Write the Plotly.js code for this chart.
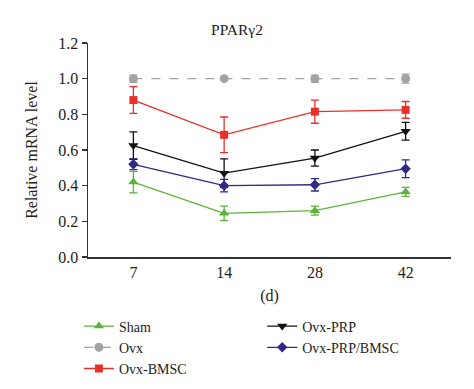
<!DOCTYPE html>
<html><head><meta charset="utf-8">
<script src="https://cdn.plot.ly/plotly-3.0.1.min.js"></script>
<style>html,body{margin:0;padding:0;background:#fff}#plot{width:474px;height:389px}</style>
</head><body><div id="plot"></div>
<script>
const days = ['7','14','28','42'];
const shamVals = [0.42, 0.245, 0.26, 0.365];
const shamErr  = [0.06, 0.04, 0.025, 0.025];
const ovxVals  = [1.0, 1.0, 1.0, 1.0];
const ovxErr   = [0.02, 0.0, 0.02, 0.025];
const bmscVals = [0.88, 0.685, 0.815, 0.825];
const bmscErr  = [0.075, 0.10, 0.065, 0.047];
const prpVals  = [0.625, 0.47, 0.555, 0.705];
const prpErr   = [0.077, 0.08, 0.045, 0.05];
const prpBmscVals = [0.52, 0.40, 0.405, 0.495];
const prpBmscErr  = [0.03, 0.035, 0.035, 0.05];
const seriesNames = ['Sham','Ovx','Ovx-BMSC','Ovx-PRP','Ovx-PRP/BMSC'];

const fam = '"Liberation Serif", "DejaVu Serif", serif';
function tr(name, y, e, color, symbol, size, dash, legend){
  return {x: days, y: y, name: name, type:'scatter', mode:'lines+markers',
    line:{color:color, width:1.3, dash:dash||'solid'},
    marker:{color:color, symbol:symbol, size:size},
    error_y:{type:'data', array:e, visible:true, color:color, thickness:1.3, width:4},
    legend: legend};
}
const data = [
  tr(seriesNames[0], shamVals, shamErr, '#5db33a', 'triangle-up', 9, 'solid', 'legend'),
  tr(seriesNames[1], ovxVals, ovxErr, '#a3a3a3', 'circle', 9, 'dash', 'legend'),
  tr(seriesNames[2], bmscVals, bmscErr, '#e8312b', 'square', 8, 'solid', 'legend'),
  tr(seriesNames[3], prpVals, prpErr, '#111111', 'triangle-down', 9, 'solid', 'legend2'),
  tr(seriesNames[4], prpBmscVals, prpBmscErr, '#2e2a86', 'diamond', 8, 'solid', 'legend2')
];
const legBase = {orientation:'v', xref:'paper', yref:'paper', xanchor:'left', yanchor:'top',
  font:{family:fam, size:14, color:'#222'}, bgcolor:'rgba(0,0,0,0)', tracegroupgap:0, itemsizing:'trace'};
const layout = {
  width:474, height:389,
  margin:{l:88, r:23, t:43, b:132, autoexpand:false},
  paper_bgcolor:'#fff', plot_bgcolor:'#fff',
  font: {family: fam, size:16, color:'#222'},
  title:{text:'PPARγ2', x:0.5, xref:'container', xanchor:'center', y:0.925, yanchor:'middle', yref:'container', font:{family:fam, size:15.5, color:'#222'}},
  showlegend:true,
  legend: Object.assign({}, legBase, {x:-0.025, y:-0.25}),
  legend2: Object.assign({}, legBase, {x:0.48, y:-0.25}),
  xaxis:{type:'category', range:[-0.5,3.5], showline:true, linecolor:'#333', linewidth:1.5,
    ticks:'', showgrid:false, zeroline:false, tickfont:{size:16}, automargin:false,
    title:{text:'(d)', standoff:10, font:{size:16}}},
  yaxis:{range:[0,1.2], dtick:0.2, tickformat:'.1f', showline:true, linecolor:'#333', linewidth:1.5,
    ticks:'outside', ticklen:5, tickwidth:1.5, tickcolor:'#333', showgrid:false, zeroline:false, automargin:false,
    tickfont:{size:16}, title:{text:'Relative mRNA level', standoff:16, font:{size:16}}}
};
Plotly.newPlot('plot', data, layout, {displayModeBar:false, staticPlot:true});
</script></body></html>
